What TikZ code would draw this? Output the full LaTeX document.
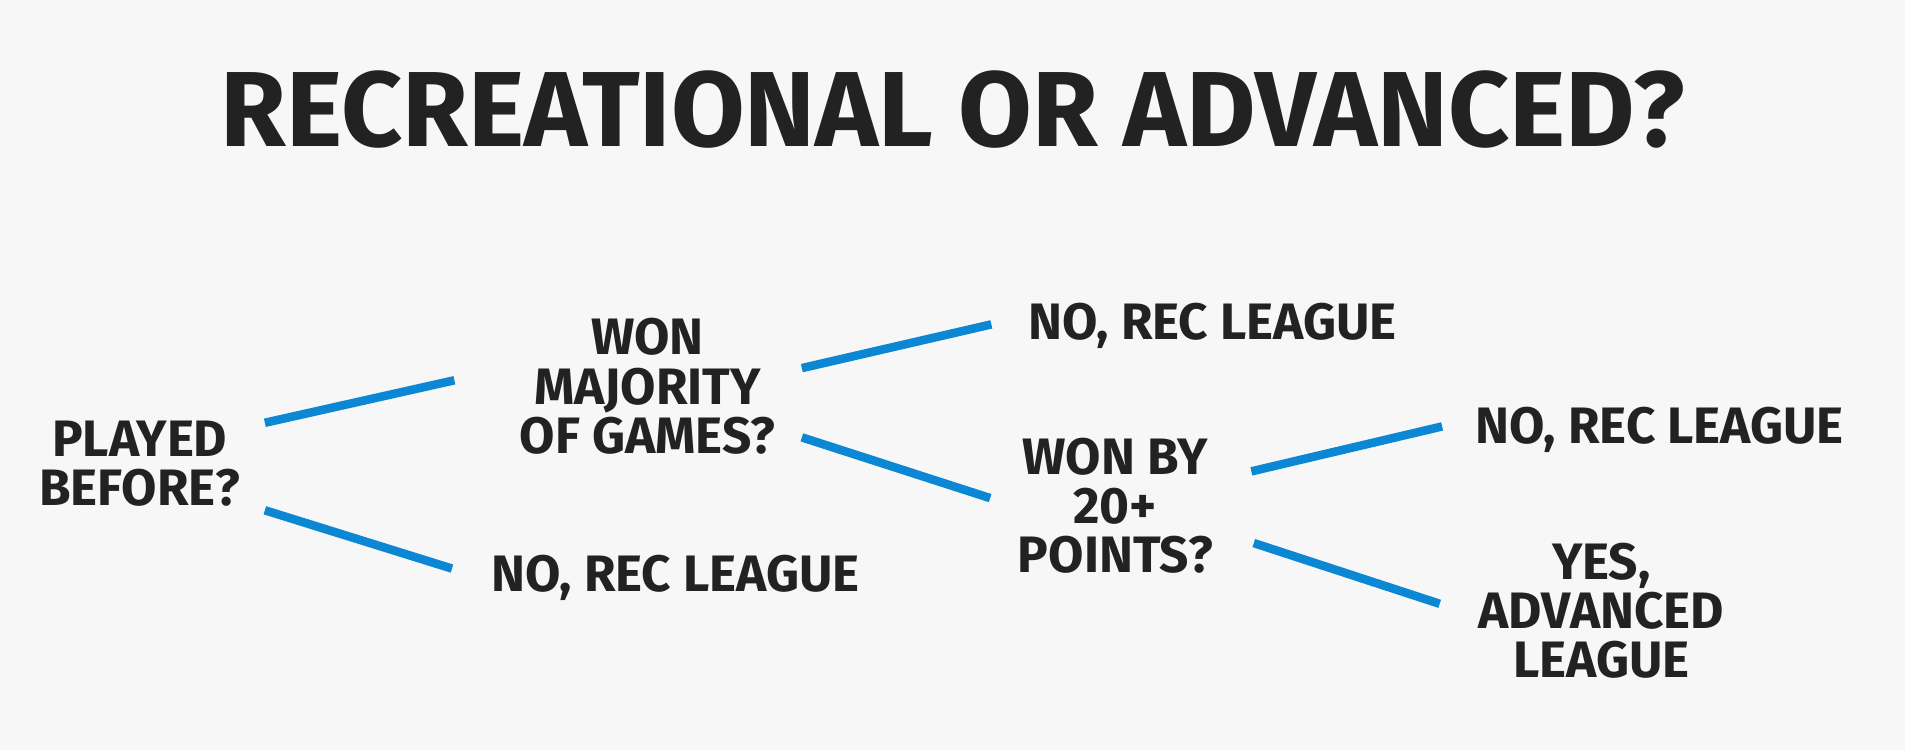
\documentclass[tikz,border=0pt]{standalone}
\usepackage{fontspec}
\setmainfont{Fira Sans}
\usetikzlibrary{positioning}
\definecolor{inkgray}{HTML}{222222}
\definecolor{linkblue}{HTML}{0B87D3}
\definecolor{paper}{HTML}{F7F7F7}
\begin{document}
\begin{tikzpicture}
  [
  x=0.02cm, y=-0.02cm,
  % question and answer text
  step box/.style = {align=center, text=inkgray,
    font=\fontsize{24}{23}\selectfont\bfseries},
  % connector
  link/.style = {draw=linkblue, line width=4pt},
  ]
  \fill[paper] (0,0) rectangle (1568,617);
  \useasboundingbox (0,0) rectangle (1568,617);

  % nodes
  \node [text=inkgray, font=\fontsize{50}{50}\selectfont\bfseries] (title) at (784,90) {RECREATIONAL OR ADVANCED?};
  \node [step box] (played) at (115,382) {PLAYED\\BEFORE?};
  \node [step box] (wonmaj) at (533,318) {WON\\MAJORITY\\OF GAMES?};
  \node [step box] (noa) at (998,268) {NO, REC LEAGUE};
  \node [step box] (nob) at (556,476) {NO, REC LEAGUE};
  \node [step box] (wonby) at (918,416) {WON BY\\20+\\POINTS?};
  \node [step box] (noc) at (1366,354) {NO, REC LEAGUE};
  \node [step box] (yes) at (1318,503) {YES,\\ADVANCED\\LEAGUE};

  % connector ends
  \coordinate (p1) at (218,348); \coordinate (m1) at (374,313);
  \coordinate (p2) at (218,420); \coordinate (n1) at (372,468);
  \coordinate (m2) at (660,303); \coordinate (a1) at (816,267);
  \coordinate (m3) at (660,360); \coordinate (w1) at (815,410);
  \coordinate (w2) at (1030,388); \coordinate (c1) at (1187,351);
  \coordinate (w3) at (1032,447); \coordinate (y1) at (1185,497);

  % path
  \path [link] (p1) -- (m1);
  \path [link] (p2) -- (n1);
  \path [link] (m2) -- (a1);
  \path [link] (m3) -- (w1);
  \path [link] (w2) -- (c1);
  \path [link] (w3) -- (y1);

\end{tikzpicture}
\end{document}
